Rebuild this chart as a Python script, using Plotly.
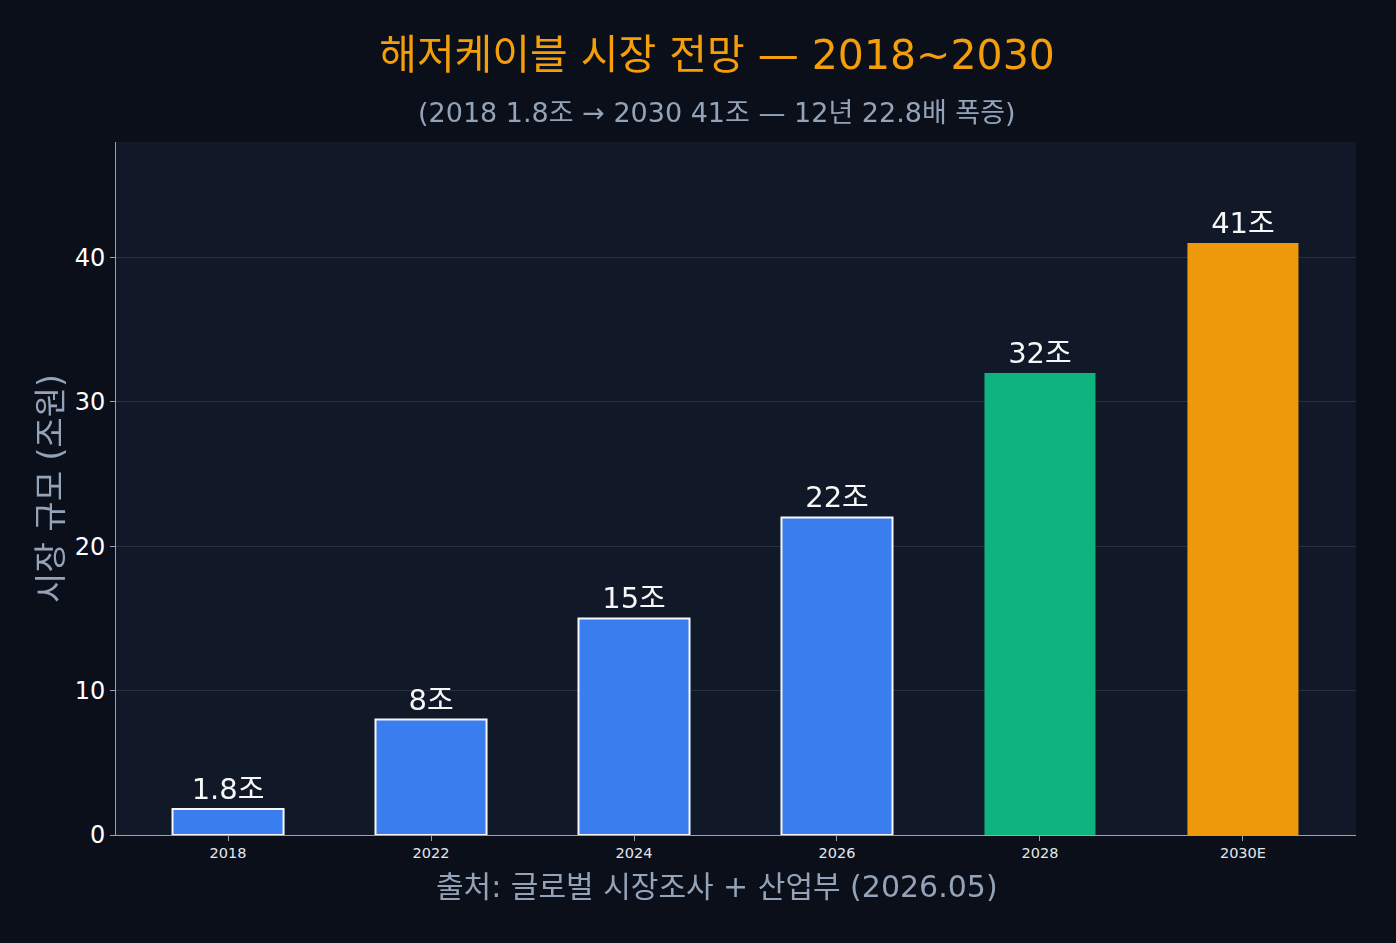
import plotly.graph_objects as go

# data
years = ["2018", "2022", "2024", "2026", "2028", "2030E"]
market_size = [1.8, 8, 15, 22, 32, 41]
labels = ["1.8조", "8조", "15조", "22조", "32조", "41조"]
bar_colors = ["#3b82f6", "#3b82f6", "#3b82f6", "#3b82f6", "#10b981", "#f59e0b"]
line_colors = ["#ffffff", "#ffffff", "#ffffff", "#ffffff", "rgba(0,0,0,0)", "rgba(0,0,0,0)"]
line_widths = [2, 2, 2, 2, 0, 0]

title_text = "해저케이블 시장 전망 — 2018~2030"
subtitle_text = "(2018 1.8조 → 2030 41조 — 12년 22.8배 폭증)"
source_text = "출처: 글로벌 시장조사 + 산업부 (2026.05)"

FONT = "DejaVu Sans, Noto Sans CJK KR, sans-serif"
BG = "#0a0f1a"

fig = go.Figure()
fig.add_trace(go.Bar(
    x=years,
    y=market_size,
    text=labels,
    textposition="outside",
    textfont=dict(size=29, color="#ffffff", family=FONT),
    marker=dict(color=bar_colors, line=dict(color=line_colors, width=line_widths)),
    opacity=0.97,
    width=0.547,
    cliponaxis=False,
))

fig.update_layout(
    width=1396,
    height=943,
    paper_bgcolor=BG,
    plot_bgcolor="#111827",
    font=dict(family=FONT, color="#ffffff"),
    title=dict(
        text=title_text,
        x=0.5136,
        xanchor="center",
        y=1 - 55 / 943,
        yanchor="middle",
        font=dict(size=41, color="#f59e0b", family=FONT),
    ),
    margin=dict(l=116, r=40, t=142, b=108),
    showlegend=False,
)

# subtitle under the title
fig.add_annotation(
    text=subtitle_text,
    xref="paper", yref="paper",
    x=0.4847, y=1.042,
    xanchor="center", yanchor="middle",
    showarrow=False,
    font=dict(size=27, color="#94a3b8", family=FONT),
)

# source line below the x axis
fig.add_annotation(
    text=source_text,
    xref="paper", yref="paper",
    x=0.4847, y=-0.0736,
    xanchor="center", yanchor="middle",
    showarrow=False,
    font=dict(size=30, color="#94a3b8", family=FONT),
)

fig.update_xaxes(
    range=[-0.552, 5.557],
    tickfont=dict(size=14.5, color="#e5e7eb"),
    showline=True,
    linecolor="#94a3b8",
    ticks="outside",
    tickcolor="#94a3b8",
    ticklen=5,
    showgrid=False,
)
fig.update_yaxes(
    title=dict(text="시장 규모 (조원)", font=dict(size=33, color="#94a3b8"), standoff=2),
    tickfont=dict(size=24, color="#ffffff"),
    range=[0, 48],
    dtick=10,
    showline=True,
    linecolor="#94a3b8",
    ticks="outside",
    tickcolor="#94a3b8",
    ticklen=5,
    gridcolor="rgba(148,163,184,0.18)",
    zeroline=False,
)

fig.write_html(
    "out.html",
    config={"displayModeBar": False},
    post_script=f"document.body.style.margin='0';document.body.style.background='{BG}';",
)
